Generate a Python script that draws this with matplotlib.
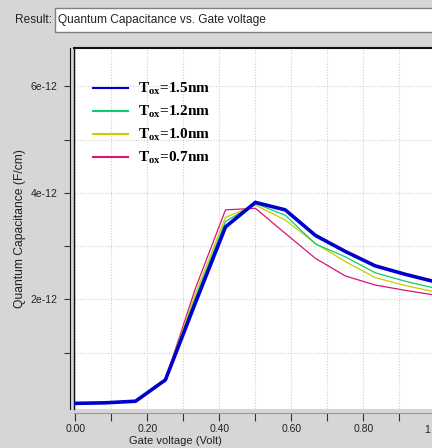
import matplotlib
matplotlib.use('Agg')
import matplotlib.pyplot as plt
from matplotlib.lines import Line2D
from matplotlib.patches import Rectangle
from matplotlib.ticker import FixedLocator, FixedFormatter

# размер картинки в пикселях
W, H = 432, 448


def fx(px):
    """пиксели по горизонтали -> доля фигуры"""
    return px / W


def fy(py):
    """пиксели сверху вниз -> доля фигуры"""
    return 1 - py / H


# Данные: напряжение на затворе (В) и квантовая ёмкость (в единицах 1e-12 F/cm)
gate_voltage = [0.0, 0.083, 0.167, 0.25, 0.333, 0.417, 0.5,
                0.583, 0.667, 0.75, 0.833, 0.917, 1.0]
cq_tox15 = [0.05, 0.06, 0.09, 0.49, 1.93, 3.36, 3.82, 3.68, 3.20, 2.90, 2.63, 2.47, 2.33]
cq_tox12 = [0.05, 0.06, 0.09, 0.49, 2.03, 3.46, 3.80, 3.58, 3.04, 2.80, 2.50, 2.34, 2.21]
cq_tox10 = [0.05, 0.06, 0.09, 0.49, 2.10, 3.54, 3.77, 3.49, 3.05, 2.71, 2.41, 2.26, 2.14]
cq_tox07 = [0.05, 0.06, 0.09, 0.49, 2.20, 3.68, 3.71, 3.24, 2.77, 2.44, 2.27, 2.17, 2.08]
labels = [r'T$_{\mathrm{ox}}$=1.5nm', r'T$_{\mathrm{ox}}$=1.2nm',
          r'T$_{\mathrm{ox}}$=1.0nm', r'T$_{\mathrm{ox}}$=0.7nm']
colors = ['#0000cc', '#10cc6a', '#cccc00', '#dd1177']

x_ticks = [0.0, 0.2, 0.4, 0.6, 0.8, 1.0]
x_tick_labels = ['0.00', '0.20', '0.40', '0.60', '0.80', '1']
x_minor = [0.1, 0.3, 0.5, 0.7, 0.9]
y_ticks = [2, 4, 6]
y_tick_labels = ['2e-12', '4e-12', '6e-12']
y_minor = [1, 3, 5]

plt.rcParams['font.family'] = ['Liberation Sans', 'DejaVu Sans']
plt.rcParams['mathtext.fontset'] = 'custom'
plt.rcParams['mathtext.rm'] = 'Liberation Serif:bold'
plt.rcParams['mathtext.it'] = 'Liberation Serif:italic:bold'
plt.rcParams['mathtext.bf'] = 'Liberation Serif:bold'

bg = '#d6d6d6'
fig = plt.figure(figsize=(W / 100, H / 100), dpi=100, facecolor=bg)

# строка "Result:" с полем
fig.text(fx(15), fy(20), 'Result:', fontsize=8.6, va='center', ha='left', color='#222222')
fig.patches.append(Rectangle((fx(55), fy(32)), fx(500) - fx(55), (32 - 8) / H,
                             transform=fig.transFigure, facecolor='white',
                             edgecolor='#808080', linewidth=1))
fig.text(fx(58), fy(20), 'Quantum Capacitance vs. Gate voltage', fontsize=8.6,
         va='center', ha='left', color='#222222')

# область графика: правая часть обрезана краем картинки
ax = fig.add_axes([fx(74), fy(409), (436 - 74) / W, (409 - 48) / H])
ax.set_facecolor('white')
ax.set_xlim(-0.004, 1.002)
ax.set_ylim(-0.056, 6.717)

ax.plot(gate_voltage, cq_tox07, color=colors[3], lw=0.9, zorder=3)
ax.plot(gate_voltage, cq_tox10, color=colors[2], lw=0.9, zorder=3)
ax.plot(gate_voltage, cq_tox12, color=colors[1], lw=0.9, zorder=3)
ax.plot(gate_voltage, cq_tox15, color=colors[0], lw=2.6, zorder=4)

# сетка пунктиром
ax.xaxis.set_major_locator(FixedLocator(x_ticks))
ax.xaxis.set_major_formatter(FixedFormatter(x_tick_labels[:-1] + ['']))
ax.xaxis.set_minor_locator(FixedLocator(x_minor))
ax.yaxis.set_major_locator(FixedLocator(y_ticks))
ax.yaxis.set_major_formatter(FixedFormatter(y_tick_labels))
ax.yaxis.set_minor_locator(FixedLocator(y_minor))
ax.grid(which='both', color='#cfcfcf', linestyle=(0, (1, 1.5)), linewidth=0.8)
ax.set_axisbelow(True)

ax.spines['right'].set_visible(False)
ax.spines['top'].set_color('#111111')
ax.spines['top'].set_linewidth(1.5)
ax.spines['bottom'].set_position(('outward', 2.9))
ax.spines['bottom'].set_color('#9a9a9a')
ax.spines['left'].set_position(('outward', 2.9))
ax.spines['left'].set_color('#111111')
ax.plot([0, 0], [0, 1], transform=ax.transAxes, color='#111111', lw=1, clip_on=False)

ax.tick_params(axis='x', which='both', direction='out', length=6, width=0.8,
               color='#333333', pad=2.2, labelsize=7.5, labelcolor='#222222')
ax.tick_params(axis='y', which='both', direction='out', length=4.5, width=0.8,
               color='#333333', pad=4.3, labelsize=7.5, labelcolor='#222222')
# последняя подпись "1" сдвинута внутрь, как в оригинале
fig.text(fx(430), fy(424.5), x_tick_labels[-1], fontsize=7.5, va='top', ha='right',
         color='#222222')

# легенда без рамки
handles = [Line2D([], [], color=c, lw=1.5) for c in colors]
ax.legend(handles, labels, loc='upper left', bbox_to_anchor=(fx(93), fy(81)),
          bbox_transform=fig.transFigure, frameon=False, borderpad=0,
          borderaxespad=0, handlelength=2.3, handletextpad=0.65, labelspacing=0.45,
          prop={'family': 'Liberation Serif', 'weight': 'bold', 'size': 11})

fig.text(fx(20), fy(229), 'Quantum Capacitance (F/cm)', rotation=90, fontsize=8.7,
         va='center', ha='center', color='#222222')
fig.text(fx(175.5), fy(435.5), 'Gate voltage (Volt)', fontsize=8.0,
         va='top', ha='center', color='#222222')

fig.savefig('out.png', dpi=100, facecolor=bg)
